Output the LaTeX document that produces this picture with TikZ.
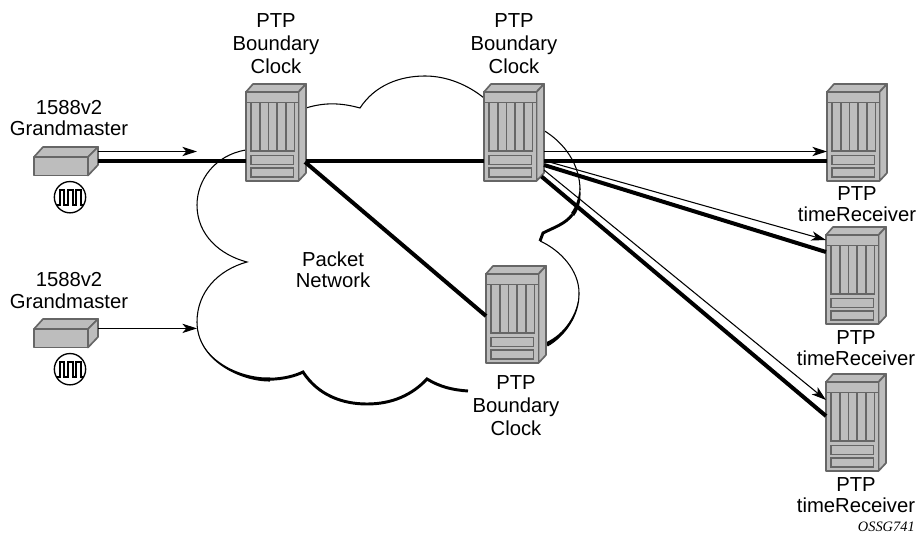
\documentclass[tikz,border=0pt]{standalone}
\usepackage{fontspec}
\setmainfont{Liberation Sans}
\newfontfamily\tagfont{Liberation Serif}
\usetikzlibrary{arrows.meta}
\usetikzlibrary{positioning}

\definecolor{rackgray}{HTML}{BDBDBD}
\definecolor{rackline}{HTML}{666666}

\tikzset{
  rackpart/.style={draw=rackline,fill=rackgray,line width=1.25pt,line join=round},
  slotpart/.style={draw=rackline,fill=rackgray,line width=1.25pt},
  anchorbox/.style={inner sep=0pt,minimum width=45pt,minimum height=73pt},
  gmbox/.style={inner sep=0pt,minimum width=48pt,minimum height=21pt},
  clocksym/.style={circle,draw,fill=white,inner sep=0pt,minimum size=23.5pt,line width=1pt},
  lbl/.style={align=center,inner sep=0pt,font=\fontsize{15.2}{17.2}\selectfont},
  rlbl/.style={align=center,inner sep=0pt,font=\fontsize{15.2}{16}\selectfont},
  trunk/.style={line width=3pt},
  thinlink/.style={line width=.8pt,-{Stealth[length=11pt,width=7pt,inset=3pt]}},
  cloudline/.style={line width=.8pt},
  cloudthick/.style={line width=2.2pt}
}

\newcommand{\rackunit}[3]{
  \begin{scope}[shift={(#2,#3)}]
    \draw[rackpart] (0,0) -- (7,-8) -- (60,-8) -- (52.5,0) -- cycle;
    \draw[rackpart] (52.5,0) -- (60,-8) -- (60,81) -- (52.5,89) -- cycle;
    \draw[rackpart] (0,0) rectangle (52.5,89);
    \draw[slotpart] (0,0) rectangle (52.5,10.5);
    \foreach \i in {0,...,4}
      \draw[slotpart] (5+8.67*\i,10.5) rectangle (13.67+8.67*\i,59);
    \draw[slotpart] (5,63.5) rectangle (47.5,72.5);
    \draw[slotpart] (5,76) rectangle (47.5,85);
    \node[anchorbox] (#1) at (30,40.5) {};
    \coordinate (#1-w) at (0,69);
    \coordinate (#1-e) at (60,69);
  \end{scope}
}

\newcommand{\gmunit}[3]{
  \begin{scope}[shift={(#2,#3)}]
    \draw[rackpart] (0,0) -- (9,-10) -- (64,-10) -- (54,0) -- cycle;
    \draw[rackpart] (54,0) -- (64,-10) -- (64,8) -- (54,18.5) -- cycle;
    \draw[rackpart] (0,0) rectangle (54,18.5);
    \node[gmbox] (#1) at (36,4) {};
    \coordinate (#1-t) at (64,-5.5);
    \coordinate (#1-b) at (64,4);
  \end{scope}
}

\newcommand{\pulsewave}[1]{
  \draw[line width=1.5pt,shift={(#1)}] (-13.5,7.5) -- (-10.5,7.5) -- (-10.5,-7.5) -- (-6,-7.5) -- (-6,7.5)
    -- (-2.5,7.5) -- (-2.5,-7.5) -- (2.5,-7.5) -- (2.5,7.5) -- (6,7.5) -- (6,-7.5) -- (10.5,-7.5)
    -- (10.5,7.5) -- (13.5,7.5);
}

\begin{document}
\begin{tikzpicture}[x=.75pt,y=-.75pt]
  \useasboundingbox (0,0) rectangle (916,534);

  % cloud
  \draw[cloudline] (246,150) .. controls (215,155) and (197,180) .. (197,205)
    .. controls (197,235) and (220,255) .. (247,262)
    .. controls (218,270) and (197,292) .. (197,322)
    .. controls (197,360) and (240,381) .. (270,381);
  \draw[cloudline] (306,108) .. controls (325,102) and (342,103) .. (360,108)
    .. controls (375,85) and (400,76) .. (425,76)
    .. controls (447,76) and (468,85) .. (484,98);
  \draw[cloudline] (543,130) .. controls (565,143) and (580,165) .. (580,190);
  \draw[cloudline] (540,241) .. controls (560,250) and (579,270) .. (579,293)
    .. controls (579.5,315) and (565,336) .. (547.5,346);
  \fill (197,322) .. controls (197,360) and (240,381) .. (270,381)
    -- (270,377.5) .. controls (240.5,378.5) and (197.3,359.5) .. (197,322) -- cycle;
  \draw[cloudthick] (270,379.2) .. controls (283,379) and (295,376) .. (303,372)
    .. controls (318,395) and (342,404) .. (367,404)
    .. controls (392,404) and (412,395) .. (427,379)
    .. controls (440,387) and (453,390) .. (468,391);
  \fill (580,185) .. controls (581.5,198) and (580,208) .. (574,216)
    -- (571,213) .. controls (576,206) and (579,198) .. (580,185) -- cycle;
  \draw[cloudthick] (572.5,214.5) .. controls (565,224) and (555,227) .. (543,233) -- (540,241);
  \fill (579,293) .. controls (579.5,315) and (565,336) .. (547.5,346)
    -- (546.5,342) .. controls (563.5,334.5) and (578,314.5) .. (579,293) -- cycle;

  % equipment
  \rackunit{bc1}{246}{92}
  \rackunit{bc2}{484}{92}
  \rackunit{bc3}{486}{274}
  \rackunit{rx1}{827}{92}
  \rackunit{rx2}{826}{235}
  \rackunit{rx3}{826}{382}
  \gmunit{gm1}{34}{157}
  \gmunit{gm2}{34}{329}

  \node[clocksym] (ck1) [below=4.2pt of gm1] {};
  \node[clocksym] (ck2) [below=4.2pt of gm2] {};
  \pulsewave{ck1}
  \pulsewave{ck2}

  % labels
  \node[lbl] (bc1lbl) [above=7.5pt of bc1] {PTP\\Boundary\\Clock};
  \node[lbl] (bc2lbl) [above=7.5pt of bc2] {PTP\\Boundary\\Clock};
  \node[lbl] (bc3lbl) [below=9pt of bc3] {PTP\\Boundary\\Clock};
  \node[rlbl] (rx1lbl) [below=3.5pt of rx1] {PTP\\timeReceiver};
  \node[rlbl] (rx2lbl) [below=4.5pt of rx2] {PTP\\timeReceiver};
  \node[rlbl] (rx3lbl) [below=4.5pt of rx3] {PTP\\timeReceiver};
  \node[rlbl] (gm1lbl) at (69,118) {1588v2\\Grandmaster};
  \node[rlbl] (gm2lbl) at (69,290.5) {1588v2\\Grandmaster};
  \node[rlbl] (netlbl) at (333,270) {Packet\\Network};
  \node[anchor=east,inner sep=0pt,font=\tagfont\itshape\fontsize{10.8}{12}\selectfont] (tag) at (915,527) {OSSG741};

  % link ends
  \coordinate (a1) at (197,151.5);
  \coordinate (a2) at (197,328.4);
  \coordinate (b3) at (98,328.4);
  \coordinate (s1) at (305,162);
  \coordinate (e1) at (486,316);
  \coordinate (s2) at (544,165);
  \coordinate (e2) at (826,252);
  \coordinate (s3) at (541.5,176.5);
  \coordinate (e3) at (826,416);
  \coordinate (s4) at (544,151.5);
  \coordinate (e4) at (827,151.5);
  \coordinate (s5) at (544,160.5);
  \coordinate (e5) at (826,240);
  \coordinate (s6) at (544,170);
  \coordinate (e6) at (826,400);

  \path[trunk]
    (gm1-b) edge (bc1-w)
    (bc1-e) edge (bc2-w)
    (bc2-e) edge (rx1-w)
    (s1) edge (e1)
    (s2) edge (e2)
    (s3) edge (e3);
  \path[thinlink]
    (gm1-t) edge (a1)
    (b3) edge (a2)
    (s4) edge (e4)
    (s5) edge (e5)
    (s6) edge (e6);
\end{tikzpicture}
\end{document}
